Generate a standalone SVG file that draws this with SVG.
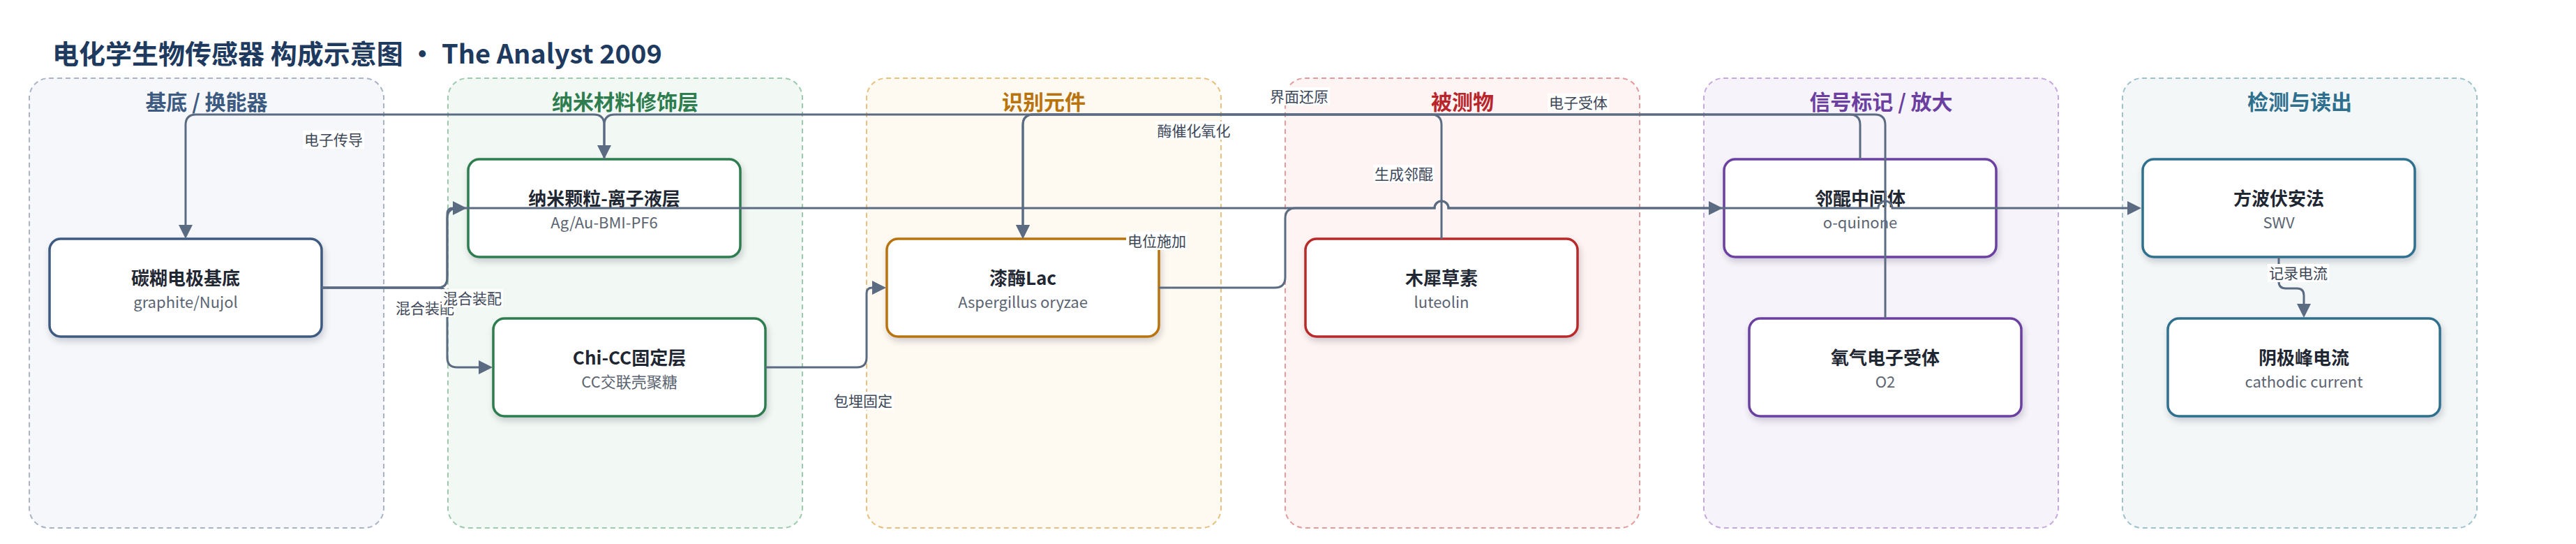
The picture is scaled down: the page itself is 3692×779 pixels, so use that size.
<svg xmlns="http://www.w3.org/2000/svg" width="3692" height="779" viewBox="0 0 3692 779">
<defs>
<style>
text{font-family:"Noto Sans CJK SC","Noto Sans",sans-serif}
.main{font-size:38px;font-weight:700;fill:#1e3a5f}
.gt{font-size:30px;font-weight:700;text-anchor:middle}
.grp{stroke-width:2;stroke-dasharray:7 5}
.node rect{fill:#fff;stroke-width:3.5;filter:url(#sh)}
.t{font-size:26px;font-weight:700;fill:#1f2733;text-anchor:middle}
.s{font-size:22px;fill:#5b6472;text-anchor:middle}
.edge{fill:none;stroke:#5b6b82;stroke-width:3;marker-end:url(#ah)}
.lb rect{fill:#fff}
.lb text{font-size:21px;fill:#3d4758;text-anchor:middle}
</style>
<filter id="sh" x="-10%" y="-20%" width="125%" height="150%">
<feDropShadow dx="2" dy="5" stdDeviation="5" flood-color="#0f172a" flood-opacity="0.18"/>
</filter>
<marker id="ah" markerUnits="userSpaceOnUse" markerWidth="20" markerHeight="20" refX="0" refY="10" orient="auto">
<path d="M0,0 L20,10 L0,20 Z" fill="#5b6b82"/>
</marker>
</defs>
<rect width="3692" height="779" fill="#fff"/>
<text class="main" x="75" y="91">电化学生物传感器 构成示意图 · The Analyst 2009</text>

<g id="clusters">
<g id="g-substrate"><rect class="grp" x="42" y="112" width="508" height="644" rx="28" fill="#f5f7fb" stroke="#a9b4c8"/><text class="gt" x="296" y="157" fill="#3d5a80">基底 / 换能器</text></g>
<g id="g-nano"><rect class="grp" x="642" y="112" width="508" height="644" rx="28" fill="#f2f8f4" stroke="#9ecaae"/><text class="gt" x="896" y="157" fill="#2e7d4f">纳米材料修饰层</text></g>
<g id="g-recog"><rect class="grp" x="1242" y="112" width="508" height="644" rx="28" fill="#fef9f1" stroke="#e8c07f"/><text class="gt" x="1496" y="157" fill="#b8730c">识别元件</text></g>
<g id="g-analyte"><rect class="grp" x="1842" y="112" width="508" height="644" rx="28" fill="#fdf4f3" stroke="#e39c9c"/><text class="gt" x="2096" y="157" fill="#b8262b">被测物</text></g>
<g id="g-signal"><rect class="grp" x="2442" y="112" width="508" height="644" rx="28" fill="#f7f3fb" stroke="#c6a9e0"/><text class="gt" x="2696" y="157" fill="#6b3fa0">信号标记 / 放大</text></g>
<g id="g-detect"><rect class="grp" x="3042" y="112" width="508" height="644" rx="28" fill="#f3f7f8" stroke="#9ec3cf"/><text class="gt" x="3296" y="157" fill="#2e6f8e">检测与读出</text></g>
</g>

<g id="n1" class="node"><rect x="71" y="342" width="390" height="140" rx="16" stroke="#3d5a80"/><text class="t" x="266" y="408">碳糊电极基底</text><text class="s" x="266" y="441">graphite/Nujol</text></g>
<g id="n2" class="node"><rect x="671" y="228" width="390" height="140" rx="16" stroke="#2e7d4f"/><text class="t" x="866" y="294">纳米颗粒-离子液层</text><text class="s" x="866" y="327">Ag/Au-BMI-PF6</text></g>
<g id="n3" class="node"><rect x="707" y="456" width="390" height="140" rx="16" stroke="#2e7d4f"/><text class="t" x="902" y="522">Chi-CC固定层</text><text class="s" x="902" y="555">CC交联壳聚糖</text></g>
<g id="n4" class="node"><rect x="1271" y="342" width="390" height="140" rx="16" stroke="#b8730c"/><text class="t" x="1466" y="408">漆酶Lac</text><text class="s" x="1466" y="441">Aspergillus oryzae</text></g>
<g id="n5" class="node"><rect x="1871" y="342" width="390" height="140" rx="16" stroke="#b82a2a"/><text class="t" x="2066" y="408">木犀草素</text><text class="s" x="2066" y="441">luteolin</text></g>
<g id="n6" class="node"><rect x="2471" y="228" width="390" height="140" rx="16" stroke="#6b3fa0"/><text class="t" x="2666" y="294">邻醌中间体</text><text class="s" x="2666" y="327">o-quinone</text></g>
<g id="n7" class="node"><rect x="2507" y="456" width="390" height="140" rx="16" stroke="#6b3fa0"/><text class="t" x="2702" y="522">氧气电子受体</text><text class="s" x="2702" y="555">O2</text></g>
<g id="n8" class="node"><rect x="3071" y="228" width="390" height="140" rx="16" stroke="#2e6f8e"/><text class="t" x="3266" y="294">方波伏安法</text><text class="s" x="3266" y="327">SWV</text></g>
<g id="n9" class="node"><rect x="3107" y="456" width="390" height="140" rx="16" stroke="#2e6f8e"/><text class="t" x="3302" y="522">阴极峰电流</text><text class="s" x="3302" y="555">cathodic current</text></g>

<g id="connectors">
<path id="e-n2-n1" class="edge" d="M866,228 V179 Q866,164 851,164 H281 Q266,164 266,179 V322"/>
<path id="e-n6-n2" class="edge" d="M2666,228 V179 Q2666,164 2651,164 H881 Q866,164 866,179 V208"/>
<path id="e-n7-n4" class="edge" d="M2702,456 V179 Q2702,164 2687,164 H1481 Q1466,164 1466,179 V322"/>
<path id="e-n5-n4" class="edge" d="M2066,342 V179 Q2066,164 2051,164 H1481 Q1466,164 1466,179 V322"/>
<path id="e-n1-n2" class="edge" d="M461,412 H627 Q641,412 641,398 V306 Q641,298 649,298"/>
<path id="e-n1-n3" class="edge" d="M461,412 H627 Q641,412 641,426 V512 Q641,526 655,526 H686"/>
<path id="e-n3-n4" class="edge" d="M1097,526 H1228 Q1242,526 1242,512 V420 Q1242,412 1250,412"/>
<path id="e-n1-n8" class="edge" d="M461,412 H627 Q641,412 641,398 V313 Q641,298 656,298 H2056 A10,10 0 0 1 2076,298 H2692 A10,10 0 0 1 2712,298 H3049"/>
<path id="e-n4-n6" class="edge" d="M1661,412 H1827 Q1842,412 1842,397 V313 Q1842,298 1857,298 H2056 A10,10 0 0 1 2076,298 H2449"/>
<path id="e-n8-n9" class="edge" d="M3266,368 V403 Q3266,413 3276,413 H3292 Q3302,413 3302,423 V435"/>
</g>

<g id="edge-labels" class="lb">
<rect x="434" y="187" width="88" height="26"/><text x="478" y="207.5">电子传导</text>
<rect x="565" y="428" width="88" height="26"/><text x="609" y="448.5">混合装配</text>
<rect x="633" y="414" width="88" height="26"/><text x="677" y="434.5">混合装配</text>
<rect x="1193" y="561" width="88" height="26"/><text x="1237" y="581.5">包埋固定</text>
<rect x="1614" y="332" width="88" height="26"/><text x="1658" y="352.5">电位施加</text>
<rect x="1656" y="174" width="110" height="26"/><text x="1711" y="194.5">酶催化氧化</text>
<rect x="1818" y="125" width="88" height="26"/><text x="1862" y="145.5">界面还原</text>
<rect x="1968" y="236" width="88" height="26"/><text x="2012" y="256.5">生成邻醌</text>
<rect x="2218" y="134" width="88" height="26"/><text x="2262" y="154.5">电子受体</text>
<rect x="3250" y="378" width="88" height="26"/><text x="3294" y="398.5">记录电流</text>
</g>
</svg>
